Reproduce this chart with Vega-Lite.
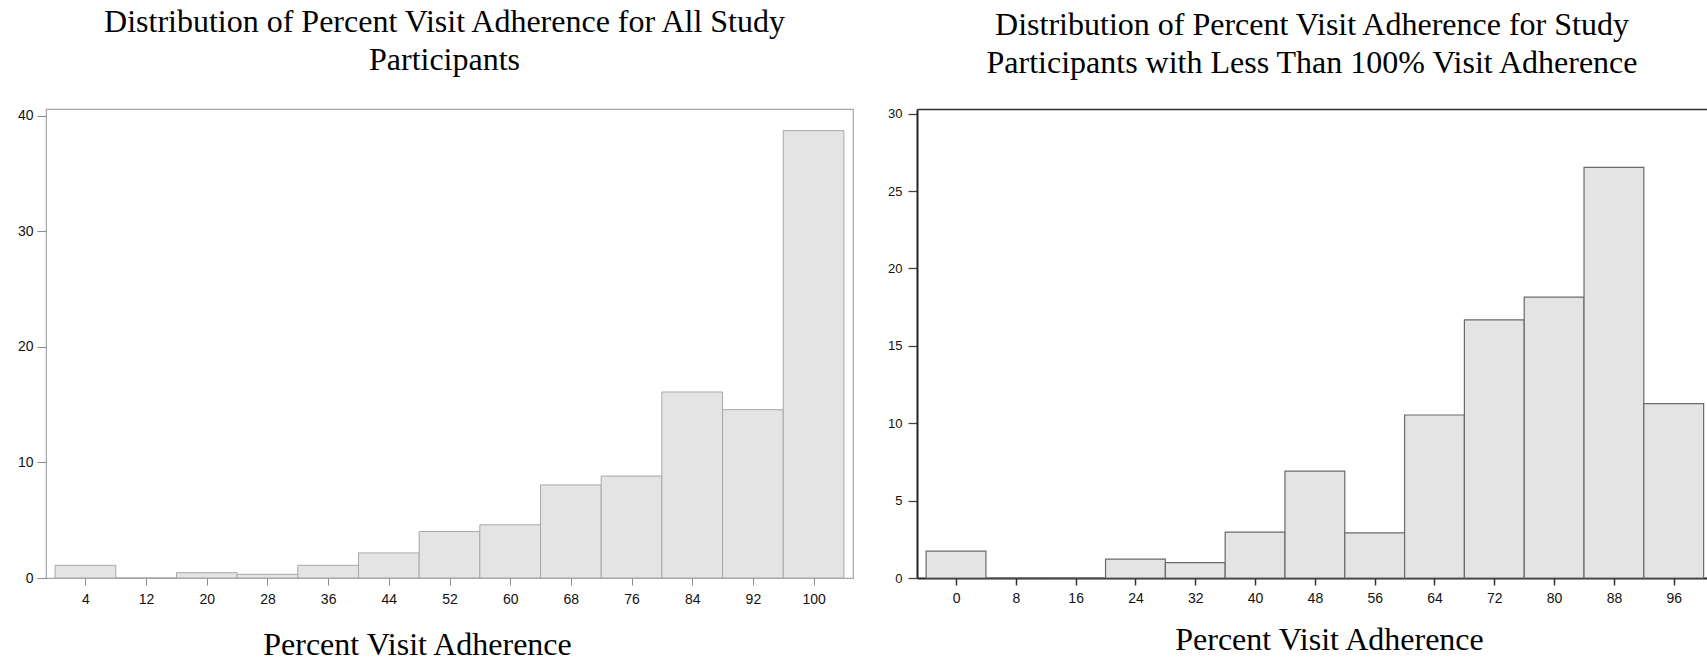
{
  "$schema": "https://vega.github.io/schema/vega-lite/v6.json",
  "background": "white",
  "autosize": {"type": "pad"},
  "padding": {"left": 16, "top": 4, "right": 0, "bottom": 0},
  "spacing": 64,
  "bounds": "flush",
  "config": {
    "view": {"stroke": null},
    "title": {"font": "Liberation Serif", "fontSize": 32, "fontWeight": "normal", "color": "#000000", "lineHeight": 38, "anchor": "middle", "baseline": "bottom"},
    "axis": {"grid": false, "titleFont": "Liberation Serif", "titleFontSize": 32, "titleFontWeight": "normal", "titleColor": "#000000", "labelFont": "Liberation Sans", "labelFontSize": 14, "labelColor": "#111111"}
  },
  "datasets": {
    "all": [
      {"b0": 0, "b1": 8, "pct": 1.1},
      {"b0": 8, "b1": 16, "pct": 0},
      {"b0": 16, "b1": 24, "pct": 0.46},
      {"b0": 24, "b1": 32, "pct": 0.32},
      {"b0": 32, "b1": 40, "pct": 1.1},
      {"b0": 40, "b1": 48, "pct": 2.17},
      {"b0": 48, "b1": 56, "pct": 4.02},
      {"b0": 56, "b1": 64, "pct": 4.6},
      {"b0": 64, "b1": 72, "pct": 8.05},
      {"b0": 72, "b1": 80, "pct": 8.82},
      {"b0": 80, "b1": 88, "pct": 16.09},
      {"b0": 88, "b1": 96, "pct": 14.56},
      {"b0": 96, "b1": 104, "pct": 38.7}
    ],
    "lt100": [
      {"b0": -4, "b1": 4, "pct": 1.73},
      {"b0": 4, "b1": 12, "pct": 0},
      {"b0": 12, "b1": 20, "pct": 0},
      {"b0": 20, "b1": 28, "pct": 1.22},
      {"b0": 28, "b1": 36, "pct": 0.99},
      {"b0": 36, "b1": 44, "pct": 2.97},
      {"b0": 44, "b1": 52, "pct": 6.9},
      {"b0": 52, "b1": 60, "pct": 2.91},
      {"b0": 60, "b1": 68, "pct": 10.53},
      {"b0": 68, "b1": 76, "pct": 16.67},
      {"b0": 76, "b1": 84, "pct": 18.15},
      {"b0": 84, "b1": 92, "pct": 26.53},
      {"b0": 92, "b1": 100, "pct": 11.26}
    ]
  },
  "hconcat": [
    {
      "width": 807,
      "height": 469,
      "title": {"text": ["Distribution of Percent Visit Adherence for All Study", "Participants"], "dx": -5, "offset": 32},
      "view": {"stroke": "#a6a6a6", "strokeWidth": 1.2},
      "data": {"name": "all"},
      "mark": {"type": "bar", "fill": "#e4e4e4", "stroke": "#a8a8a8", "strokeWidth": 1},
      "encoding": {
        "x": {"field": "b0", "type": "quantitative", "scale": {"domain": [-1.2, 105.2], "nice": false, "zero": false},
          "axis": {"values": [4, 12, 20, 28, 36, 44, 52, 60, 68, 76, 84, 92, 100], "domain": false, "tickSize": 7, "tickColor": "#8c8c8c", "labelPadding": 7, "title": "Percent Visit Adherence", "titleX": 371, "titleY": 76, "titleBaseline": "alphabetic"}},
        "x2": {"field": "b1"},
        "y": {"field": "pct", "type": "quantitative", "scale": {"domain": [0, 40.57], "nice": false},
          "axis": {"values": [0, 10, 20, 30, 40], "domain": false, "tickSize": 9, "tickColor": "#8c8c8c", "labelPadding": 4, "title": null}},
        "y2": {"datum": 0}
      }
    },
    {
      "width": 790,
      "height": 469,
      "title": {"text": ["Distribution of Percent Visit Adherence for Study", "Participants with Less Than 100% Visit Adherence"], "dx": 0, "offset": 28},
      "data": {"name": "lt100"},
      "layer": [
        {
          "mark": {"type": "bar", "fill": "#e4e4e4", "stroke": "#6a6a6a", "strokeWidth": 1.2},
          "encoding": {
            "x": {"field": "b0", "type": "quantitative", "scale": {"domain": [-5.22, 100.45], "nice": false, "zero": false},
              "axis": {"values": [0, 8, 16, 24, 32, 40, 48, 56, 64, 72, 80, 88, 96], "domainColor": "#222222", "domainWidth": 2, "tickSize": 7, "tickColor": "#333333", "tickWidth": 1.5, "labelPadding": 6, "title": "Percent Visit Adherence", "titleX": 412, "titleY": 71, "titleBaseline": "alphabetic"}},
            "x2": {"field": "b1"},
            "y": {"field": "pct", "type": "quantitative", "scale": {"domain": [0, 30.3], "nice": false},
              "axis": {"values": [0, 5, 10, 15, 20, 25, 30], "domainColor": "#222222", "domainWidth": 2, "tickSize": 9, "tickColor": "#444444", "tickWidth": 1.3, "labelPadding": 6, "labelFontSize": 13, "title": null}},
            "y2": {"datum": 0}
          }
        },
        {
          "mark": {"type": "bar", "opacity": 0},
          "encoding": {
            "x": {"field": "b0", "type": "quantitative", "scale": {"domain": [-5.22, 100.45], "nice": false, "zero": false},
              "axis": {"orient": "top", "labels": false, "ticks": false, "title": null, "domainColor": "#333333", "domainWidth": 1.3}},
            "x2": {"field": "b1"},
            "y": {"field": "pct", "type": "quantitative", "scale": {"domain": [0, 30.3], "nice": false}},
            "y2": {"datum": 0}
          }
        }
      ],
      "resolve": {"axis": {"x": "independent"}}
    }
  ]
}
